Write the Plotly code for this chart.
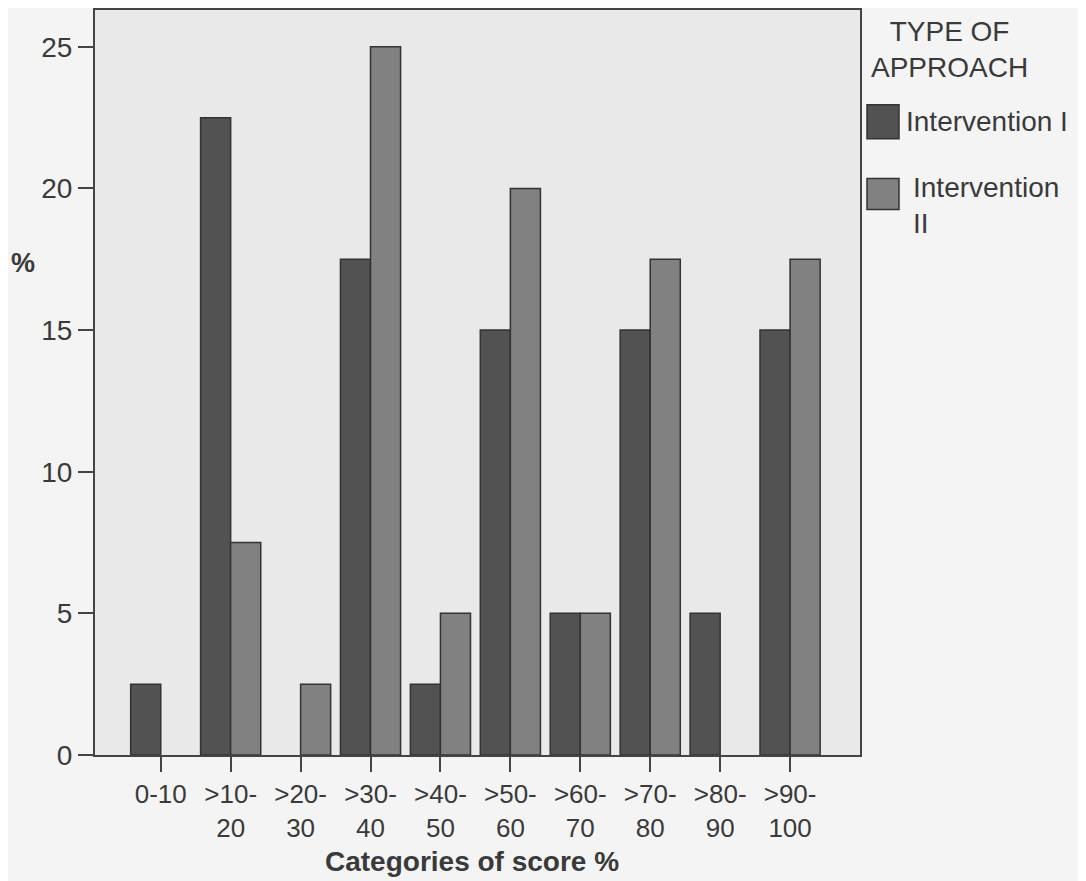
import plotly.graph_objects as go

categories = ["0-10", ">10-20", ">20-30", ">30-40", ">40-50", ">50-60", ">60-70", ">70-80", ">80-90", ">90-100"]
intervention_1 = [2.5, 22.5, 0, 17.5, 2.5, 15, 5, 15, 5, 15]
intervention_2 = [0, 7.5, 2.5, 25, 5, 20, 5, 17.5, 0, 17.5]
y_ticks = [0, 5, 10, 15, 20, 25]
series_names = ["Intervention I", "Intervention II"]

# page body has an 8px margin; compensate so screenshot coordinates match
O = 8
W, H = 1086 - O, 881 - O
L, R, T, B = 95 - O, 860 - O, 0, 755 - O
TXT = "#3a3a3a"
C1 = "#525252"
C2 = "#818181"
FONT = "Liberation Sans, Arial, sans-serif"

ticktext = [c.replace("-", "-<br>", 1) if c.startswith(">") else c for c in categories]

def px_x(x):
    return (x - O - L) / (R - L)

def px_y(y):
    return (B - (y - O)) / (B - T)

def nz(v):
    return [None if a == 0 else a for a in v]

fig = go.Figure()
fig.add_trace(go.Bar(x=categories, y=nz(intervention_1), name=series_names[0],
                     marker=dict(color=C1, line=dict(color="#333333", width=1.5))))
fig.add_trace(go.Bar(x=categories, y=nz(intervention_2), name=series_names[1],
                     marker=dict(color=C2, line=dict(color="#333333", width=1.5))))

fig.update_layout(
    width=W, height=H,
    margin=dict(l=L, r=W - R, t=T, b=H - B, pad=0),
    paper_bgcolor="#f4f4f4", plot_bgcolor="#e9e9e9",
    barmode="group", bargap=0.14, bargroupgap=0,
    showlegend=False,
    font=dict(family=FONT, color=TXT, size=26),
)
fig.update_xaxes(type="category", range=[-0.94, 10.0], tickvals=categories, ticktext=ticktext,
                 ticks="outside", ticklen=15, tickwidth=2, tickcolor="#444444",
                 showline=True, mirror=True, linecolor="#444444", linewidth=2,
                 showgrid=False, tickfont=dict(size=26, color=TXT))
fig.update_yaxes(range=[0, 26.30], tickvals=y_ticks, ticks="outside", ticklen=15, tickwidth=2,
                 tickcolor="#444444", showline=True, mirror=True, linecolor="#444444", linewidth=2,
                 showgrid=False, zeroline=False, tickfont=dict(size=28, color=TXT))

# axis titles
fig.add_annotation(text="<b>Categories of score %</b>", xref="paper", yref="paper",
                   x=px_x(472), y=px_y(862), xanchor="center", yanchor="middle",
                   showarrow=False, font=dict(size=28, color=TXT))
fig.add_annotation(text="<b>%</b>", xref="paper", yref="paper",
                   x=px_x(23), y=px_y(262), xanchor="center", yanchor="middle",
                   showarrow=False, font=dict(size=27, color=TXT))

# legend
fig.add_annotation(text="TYPE OF<br>APPROACH", xref="paper", yref="paper",
                   x=px_x(949), y=px_y(48), xanchor="center", yanchor="middle",
                   showarrow=False, align="center", font=dict(size=28, color=TXT))
fig.add_shape(type="rect", xref="paper", yref="paper", x0=px_x(867), x1=px_x(899),
              y0=px_y(137), y1=px_y(103), fillcolor=C1, line=dict(color="#333333", width=1.5))
fig.add_shape(type="rect", xref="paper", yref="paper", x0=px_x(867), x1=px_x(899),
              y0=px_y(208), y1=px_y(177), fillcolor=C2, line=dict(color="#333333", width=1.5))
fig.add_annotation(text=series_names[0], xref="paper", yref="paper", x=px_x(904), y=px_y(120),
                   xanchor="left", yanchor="middle", showarrow=False, font=dict(size=28, color=TXT))
fig.add_annotation(text="Intervention<br>II", xref="paper", yref="paper", x=px_x(911), y=px_y(204),
                   xanchor="left", yanchor="middle", showarrow=False, align="left",
                   font=dict(size=28, color=TXT))

fig.write_html("out.html")
